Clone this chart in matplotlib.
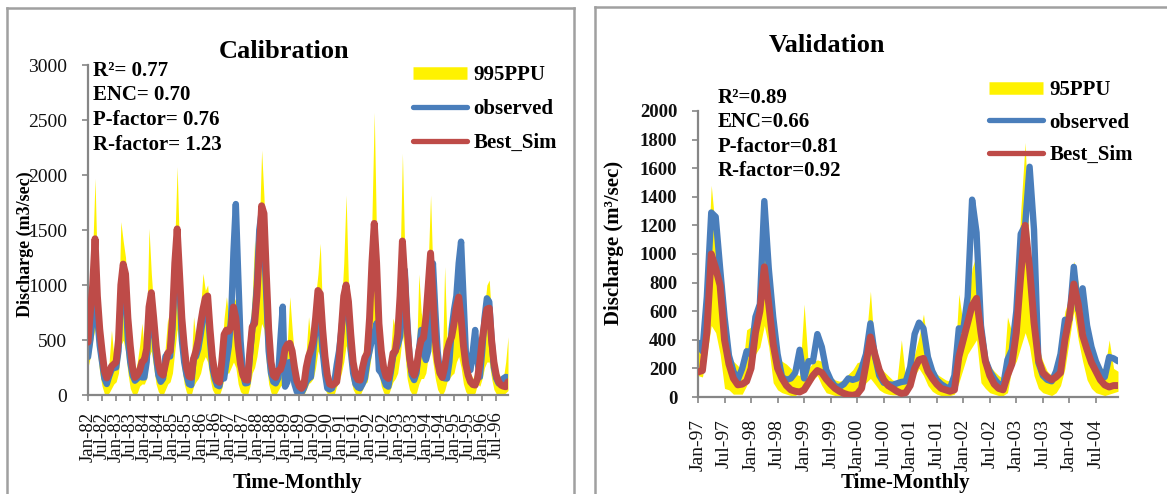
import matplotlib
matplotlib.use("Agg")
import matplotlib.pyplot as plt
from matplotlib.lines import Line2D

plt.rcParams['font.family'] = ['Liberation Serif', 'DejaVu Serif']

# ---- calibration period, monthly Jan-1982 .. Dec-1996 ----
cal_obs = [345, 500, 700, 1000, 700, 450, 300, 150, 100, 170, 230, 250,
           250, 400, 900, 1050, 900, 500, 300, 180, 130, 150, 180, 160,
           160, 300, 700, 850, 600, 350, 180, 120, 150, 350, 380, 350,
           600, 1100, 1350, 1000, 500, 300, 180, 100, 90, 330, 350, 420,
           550, 700, 800, 820, 500, 250, 150, 90, 80, 200, 150, 300,
           440, 700, 1300, 1736, 1100, 500, 200, 106, 110, 350, 600, 712,
           1000, 1500, 1666, 1409, 900, 400, 200, 120, 106, 150, 500, 803,
           76, 120, 300, 250, 100, 30, 15, 20, 60, 120, 150, 164,
           400, 600, 712, 650, 400, 200, 61, 50, 60, 120, 273, 400,
           591, 800, 900, 750, 400, 200, 100, 70, 61, 100, 152, 300,
           400, 500, 550, 652, 227, 200, 150, 90, 76, 200, 350, 400,
           450, 530, 800, 1136, 700, 350, 180, 136, 200, 400, 591, 400,
           318, 400, 800, 1197, 773, 400, 200, 160, 152, 150, 300, 600,
           773, 900, 1200, 1394, 900, 400, 250, 227, 400, 591, 300, 164,
           400, 700, 879, 848, 500, 250, 150, 106, 100, 150, 164, 160]
cal_sim = [480, 750, 1000, 1420, 900, 600, 400, 220, 155, 200, 260, 280,
           300, 500, 1000, 1190, 1100, 700, 450, 250, 160, 180, 220, 300,
           320, 420, 800, 930, 700, 450, 280, 200, 180, 280, 380, 400,
           700, 1200, 1510, 1100, 700, 450, 250, 170, 160, 330, 400, 500,
           650, 780, 880, 900, 600, 350, 200, 130, 115, 300, 550, 590,
           580, 620, 800, 700, 450, 280, 180, 140, 135, 400, 620, 650,
           900, 1300, 1720, 1650, 1100, 600, 300, 180, 160, 220, 230, 300,
           420, 460, 470, 400, 250, 130, 80, 60, 90, 250, 350, 410,
           500, 700, 950, 920, 600, 350, 180, 100, 90, 100, 120, 300,
           600, 900, 1000, 850, 550, 300, 180, 140, 135, 250, 340, 380,
           700, 1200, 1560, 1200, 650, 400, 250, 170, 150, 250, 380, 400,
           550, 900, 1400, 1050, 600, 350, 220, 180, 250, 400, 500, 520,
           700, 1000, 1290, 900, 500, 300, 200, 160, 250, 400, 480, 530,
           650, 800, 890, 700, 450, 280, 180, 120, 95, 90, 150, 300,
           500, 650, 780, 790, 500, 300, 180, 120, 90, 80, 75, 120]
cal_low = [250, 350, 500, 600, 400, 200, 80, 10, 0, 20, 60, 100,
           120, 200, 450, 500, 400, 200, 60, 10, 0, 20, 80, 100,
           100, 150, 350, 400, 250, 100, 30, 0, 0, 50, 100, 120,
           200, 400, 600, 450, 250, 100, 20, 0, 0, 80, 120, 150,
           200, 300, 350, 300, 150, 50, 10, 0, 0, 60, 150, 200,
           200, 250, 300, 250, 100, 30, 10, 0, 0, 80, 200, 250,
           350, 500, 650, 600, 300, 100, 20, 0, 0, 40, 80, 100,
           100, 150, 200, 150, 60, 10, 0, 0, 0, 50, 100, 120,
           150, 250, 400, 350, 150, 50, 10, 0, 0, 10, 80, 120,
           200, 300, 450, 350, 150, 50, 10, 0, 0, 50, 100, 120,
           250, 400, 600, 450, 200, 80, 20, 0, 0, 60, 120, 150,
           200, 350, 550, 400, 150, 50, 10, 0, 20, 100, 150, 150,
           200, 350, 450, 300, 150, 50, 10, 0, 40, 120, 150, 180,
           200, 300, 350, 250, 100, 30, 0, 0, 0, 20, 100, 80,
           150, 250, 300, 300, 150, 50, 10, 0, 0, 0, 20, 40]
cal_up = [600, 900, 1300, 1970, 1100, 700, 450, 250, 180, 300, 590, 350,
          350, 700, 1576, 1400, 1250, 800, 500, 300, 200, 300, 450, 652,
          400, 600, 1515, 1100, 800, 500, 350, 250, 250, 450, 712, 500,
          800, 1400, 2076, 1300, 800, 500, 300, 250, 300, 712, 500, 600,
          800, 1106, 950, 1000, 700, 400, 250, 180, 200, 400, 700, 894,
          700, 750, 900, 850, 550, 350, 250, 200, 250, 600, 900, 1409,
          1100, 1500, 2227, 1800, 1200, 700, 350, 250, 200, 300, 500, 700,
          400, 500, 894, 600, 350, 200, 150, 100, 150, 400, 712, 500,
          600, 900, 1100, 1379, 700, 400, 250, 150, 150, 200, 400, 600,
          800, 1200, 1818, 1000, 650, 400, 250, 200, 200, 350, 500, 500,
          900, 1600, 2570, 1400, 800, 500, 300, 250, 250, 400, 700, 600,
          700, 1200, 2197, 1300, 700, 450, 300, 250, 350, 1100, 750, 650,
          800, 1200, 1818, 1100, 700, 400, 300, 250, 1167, 500, 600, 700,
          750, 900, 1130, 900, 600, 350, 250, 200, 150, 200, 500, 400,
          600, 800, 1000, 1045, 700, 400, 250, 200, 150, 150, 300, 530]
cal_labels = [f"{mon}-{yy}" for yy in range(82, 97) for mon in ("Jan", "Jul")]

# ---- validation period, monthly Jan-1997 .. Dec-2004 ----
val_obs = [380, 320, 700, 1290, 1260, 900, 560, 290, 180, 120, 200, 320,
           300, 560, 650, 1370, 900, 560, 300, 140, 120, 130, 170, 330,
           130, 250, 250, 440, 350, 190, 120, 75, 70, 90, 130, 120,
           130, 200, 300, 515, 290, 150, 100, 90, 85, 95, 105, 110,
           210, 440, 520, 480, 280, 180, 120, 90, 70, 60, 150, 480,
           470, 700, 1380, 1150, 500, 260, 180, 130, 90, 75, 260, 330,
           600, 1140, 1200, 1610, 1170, 240, 150, 120, 110, 180, 300, 540,
           540, 910, 610, 760, 500, 350, 250, 180, 140, 280, 270, 250]
val_sim = [175, 185, 450, 1000, 900, 780, 400, 230, 130, 85, 90, 110,
           200, 450, 600, 910, 650, 370, 200, 130, 80, 50, 40, 35,
           50, 100, 150, 185, 170, 125, 90, 60, 40, 25, 15, 12,
           20, 60, 230, 420, 300, 190, 120, 80, 60, 40, 25, 30,
           80, 200, 260, 270, 180, 130, 90, 60, 50, 40, 50, 280,
           400, 520, 640, 690, 450, 250, 150, 90, 60, 50, 150, 230,
           450, 850, 1200, 900, 520, 260, 170, 140, 120, 140, 170, 400,
           560, 790, 650, 430, 330, 240, 180, 120, 84, 70, 80, 80]
val_low = [150, 140, 300, 500, 450, 300, 60, 50, 20, 20, 20, 80,
           180, 300, 350, 500, 350, 100, 50, 30, 20, 10, 10, 30,
           40, 80, 120, 150, 80, 30, 20, 10, 10, 10, 15, 20,
           30, 60, 100, 130, 90, 50, 30, 20, 15, 15, 10, 20,
           60, 150, 200, 150, 80, 40, 20, 10, 10, 10, 20, 100,
           200, 300, 350, 400, 100, 60, 30, 20, 10, 10, 30, 200,
           250, 350, 450, 350, 150, 60, 30, 20, 10, 30, 80, 200,
           400, 600, 400, 250, 120, 60, 30, 20, 10, 20, 30, 40]
val_up = [390, 350, 800, 1480, 1150, 900, 450, 280, 250, 220, 180, 470,
          490, 620, 700, 1100, 700, 400, 280, 250, 230, 200, 160, 150,
          650, 200, 240, 260, 250, 180, 140, 120, 110, 120, 160, 190,
          240, 250, 400, 740, 300, 220, 180, 150, 120, 110, 400, 120,
          220, 300, 420, 580, 350, 220, 160, 140, 120, 110, 200, 720,
          500, 650, 900, 1000, 560, 280, 220, 180, 150, 130, 560, 450,
          650, 1300, 1780, 1000, 600, 350, 250, 180, 150, 260, 400, 600,
          700, 950, 800, 560, 420, 300, 250, 210, 190, 400, 200, 180]
val_labels = [f"{mon}-{yy:02d}" for yy in [97, 98, 99, 0, 1, 2, 3, 4] for mon in ("Jan", "Jul")]

BAND = '#FFF200'
OBS = '#4A7EBB'
SIM = '#BE4B48'
AXC = '#868686'

W, H = 1167, 494
fig = plt.figure(figsize=(W / 100, H / 100), dpi=100)


def px_box(x0, y0, x1, y1):
    return [x0 / W, 1 - y1 / H, (x1 - x0) / W, (y1 - y0) / H]


def draw_panel(ax, obs, sim, low, up, labels, ymax, ystep, ybold, xpad, xsize):
    x = list(range(len(obs)))
    ax.fill_between(x, low, up, color=BAND, lw=0, zorder=1)
    ax.plot(x, obs, color=OBS, lw=4.6, solid_capstyle='round', solid_joinstyle='round', zorder=2)
    ax.plot(x, sim, color=SIM, lw=5.0, solid_capstyle='round', solid_joinstyle='round', zorder=3)
    ax.set_xlim(0, len(obs) - 1)
    ax.set_ylim(0, ymax)
    ax.set_yticks(range(0, ymax + 1, ystep))
    ax.set_xticks(range(0, len(obs), 6))
    ax.set_xticklabels(labels, rotation=90, fontsize=xsize)
    for s in ('top', 'right'):
        ax.spines[s].set_visible(False)
    for s in ('left', 'bottom'):
        ax.spines[s].set_color(AXC)
        ax.spines[s].set_linewidth(1.6)
    ax.tick_params(axis='both', colors=AXC, length=4, width=1.2, labelcolor='#111111')
    ax.tick_params(axis='x', pad=xpad)
    ax.tick_params(axis='y', pad=11, labelsize=14 if not ybold else 13.5)
    if ybold:
        for t in ax.get_yticklabels():
            t.set_fontweight('bold')
    handles = [Line2D([], [], color=BAND, lw=9, solid_capstyle='butt'),
               Line2D([], [], color=OBS, lw=3.8, solid_capstyle='round'),
               Line2D([], [], color=SIM, lw=3.8, solid_capstyle='round')]
    return handles


# left panel
ax1 = fig.add_axes(px_box(88, 65, 508, 395))
h1 = draw_panel(ax1, cal_obs, cal_sim, cal_low, cal_up, cal_labels, 3000, 500, False, 8, 13.5)
fig.legend(h1, ['995PPU', 'observed', 'Best_Sim'], loc='upper left',
           bbox_to_anchor=(413 / W, 1 - 65 / H), frameon=False,
           prop={'weight': 'bold', 'size': 15}, handlelength=2.6,
           handletextpad=0.3, labelspacing=0.68, borderpad=0, borderaxespad=0)
fig.text(284 / W, 1 - 52 / H, 'Calibration', ha='center', va='center',
         fontsize=19, fontweight='bold')
for i, s in enumerate(['R²= 0.77', 'ENC= 0.70', 'P-factor= 0.76', 'R-factor= 1.23']):
    fig.text(93 / W, 1 - (71 + 24.5 * i) / H, s, ha='left', va='center',
             fontsize=15, fontweight='bold')
fig.text(25 / W, 1 - 244 / H, 'Discharge (m3/sec)', rotation=90, ha='center',
         va='center', fontsize=13, fontweight='bold')
fig.text(297 / W, 1 - 483 / H, 'Time-Monthly', ha='center', va='center',
         fontsize=15, fontweight='bold')

# right panel
ax2 = fig.add_axes(px_box(698, 111, 1118, 397))
h2 = draw_panel(ax2, val_obs, val_sim, val_low, val_up, val_labels, 2000, 200, True, 12, 14)
fig.legend(h2, ['95PPU', 'observed', 'Best_Sim'], loc='upper left',
           bbox_to_anchor=(989 / W, 1 - 80 / H), frameon=False,
           prop={'weight': 'bold', 'size': 15}, handlelength=2.6,
           handletextpad=0.3, labelspacing=0.6, borderpad=0, borderaxespad=0)
fig.text(827 / W, 1 - 45 / H, 'Validation', ha='center', va='center',
         fontsize=19, fontweight='bold')
for i, s in enumerate(['R²=0.89', 'ENC=0.66', 'P-factor=0.81', 'R-factor=0.92']):
    fig.text(718 / W, 1 - (98 + 24.3 * i) / H, s, ha='left', va='center',
             fontsize=15, fontweight='bold')
fig.text(614 / W, 1 - 243 / H, 'Discharge (m³/sec)', rotation=90, ha='center',
         va='center', fontsize=15, fontweight='bold')
fig.text(905 / W, 1 - 483 / H, 'Time-Monthly', ha='center', va='center',
         fontsize=15, fontweight='bold')

# panel frames
frame = dict(color='#A0A0A0', lw=1.8, transform=fig.transFigure)
fig.add_artist(Line2D([7 / W, 7 / W], [0, 1 - 8 / H], **frame))
fig.add_artist(Line2D([7 / W, 574 / W], [1 - 8 / H, 1 - 8 / H], **frame))
fig.add_artist(Line2D([574 / W, 574 / W], [0, 1 - 8 / H], **frame))
fig.add_artist(Line2D([595 / W, 595 / W], [0, 1 - 7.5 / H], **frame))
fig.add_artist(Line2D([595 / W, 1], [1 - 7.5 / H, 1 - 7.5 / H], **frame))

fig.savefig('out.png', dpi=100)
